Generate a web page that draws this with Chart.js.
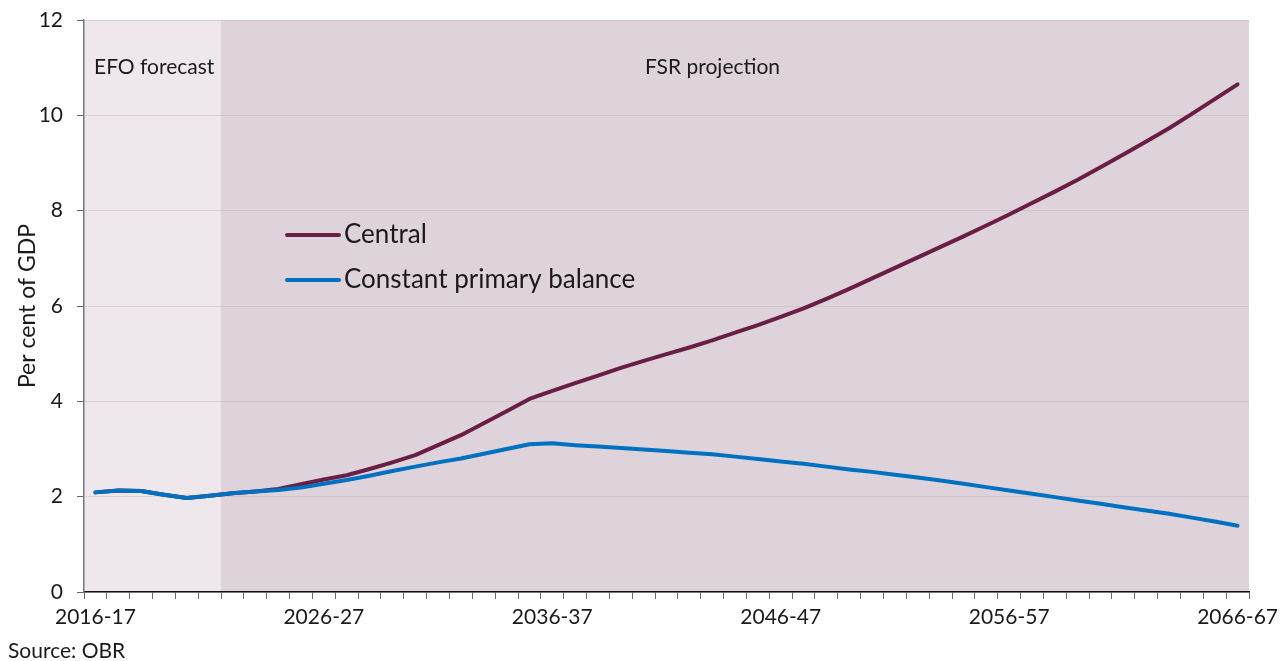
<!DOCTYPE html>
<html><head><meta charset="utf-8">
<script src="https://cdn.jsdelivr.net/npm/chart.js@4"></script>
<style>html,body{margin:0;padding:0;background:#fff}</style>
</head><body>
<canvas id="c" width="1285" height="661"></canvas>
<script>
const categories = ['2016-17','2017-18','2018-19','2019-20','2020-21','2021-22','2022-23','2023-24','2024-25','2025-26',
'2026-27','2027-28','2028-29','2029-30','2030-31','2031-32','2032-33','2033-34','2034-35','2035-36',
'2036-37','2037-38','2038-39','2039-40','2040-41','2041-42','2042-43','2043-44','2044-45','2045-46',
'2046-47','2047-48','2048-49','2049-50','2050-51','2051-52','2052-53','2053-54','2054-55','2055-56',
'2056-57','2057-58','2058-59','2059-60','2060-61','2061-62','2062-63','2063-64','2064-65','2065-66','2066-67'];
const centralValues = [2.09,2.13,2.12,2.04,1.97,2.02,2.07,2.11,2.16,2.26,
2.36,2.45,2.58,2.72,2.87,3.08,3.29,3.54,3.79,4.05,
4.22,4.38,4.54,4.70,4.85,4.99,5.13,5.28,5.44,5.60,
5.77,5.95,6.15,6.36,6.58,6.80,7.02,7.24,7.46,7.69,
7.92,8.16,8.40,8.65,8.91,9.18,9.45,9.73,10.03,10.34,10.65];
const constantPrimaryValues = [2.09,2.13,2.12,2.04,1.97,2.02,2.07,2.11,2.14,2.19,
2.27,2.35,2.44,2.54,2.63,2.72,2.80,2.90,3.00,3.10,
3.12,3.08,3.05,3.02,2.99,2.96,2.92,2.89,2.84,2.79,
2.74,2.69,2.63,2.57,2.52,2.46,2.40,2.34,2.27,2.20,
2.13,2.06,1.99,1.92,1.85,1.78,1.71,1.64,1.56,1.48,1.39];
const seriesNames = ['Central','Constant primary balance'];
const yTickValues = [0,2,4,6,8,10,12];
const labelEvery = 10;
const forecastLastIndex = 5;
const regionLabels = ['EFO forecast','FSR projection'];
const yTitle = 'Per cent of GDP';
const sourceText = 'Source: OBR';

const FONT = 'Lato, "Open Sans", sans-serif';
const COL_CENTRAL = '#6A1E45';
const COL_CPB = '#0070C0';

const shade = {
  id: 'shade',
  beforeDraw(chart) {
    const {ctx, chartArea: a, scales: {x}} = chart;
    const b = (x.getPixelForValue(forecastLastIndex) + x.getPixelForValue(forecastLastIndex + 1)) / 2;
    ctx.save();
    ctx.fillStyle = '#EEE7EC';
    ctx.fillRect(a.left, a.top, b - a.left, a.bottom - a.top);
    ctx.fillStyle = '#DED3DA';
    ctx.fillRect(b, a.top, a.right - b, a.bottom - a.top);
    ctx.fillStyle = '#1a1a1a';
    ctx.font = '21px ' + FONT;
    ctx.textBaseline = 'middle';
    ctx.textAlign = 'left';
    ctx.fillText(regionLabels[0], a.left + 10, 67);
    ctx.fillText(regionLabels[1], 645, 67);
    ctx.restore();
  },
  afterDraw(chart) {
    const {ctx} = chart;
    ctx.save();
    const ds = chart.data.datasets;
    ds.forEach((d, i) => {
      const y = 235 + 45 * i;
      ctx.strokeStyle = d.borderColor;
      ctx.lineWidth = 4;
      ctx.lineCap = 'round';
      ctx.beginPath();
      ctx.moveTo(287, y);
      ctx.lineTo(339, y);
      ctx.stroke();
      ctx.fillStyle = '#1a1a1a';
      ctx.font = '26px ' + FONT;
      ctx.textBaseline = 'middle';
      ctx.textAlign = 'left';
      ctx.fillText(d.label, 344, y);
    });
    ctx.font = '21px ' + FONT;
    ctx.textBaseline = 'middle';
    ctx.fillText(sourceText, 8, 651);
    ctx.restore();
  }
};

new Chart(document.getElementById('c'), {
  type: 'line',
  data: {
    labels: categories,
    datasets: [
      {label: seriesNames[0], data: centralValues, borderColor: COL_CENTRAL, backgroundColor: COL_CENTRAL,
       borderWidth: 4, pointRadius: 0, tension: 0, borderCapStyle: 'round', borderJoinStyle: 'round', order: 1},
      {label: seriesNames[1], data: constantPrimaryValues, borderColor: COL_CPB, backgroundColor: COL_CPB,
       borderWidth: 4, pointRadius: 0, tension: 0, borderCapStyle: 'round', borderJoinStyle: 'round', order: 0}
    ]
  },
  options: {
    responsive: false,
    animation: false,
    events: [],
    layout: {padding: {top: 20, right: 36, left: 0, bottom: 0}},
    plugins: {legend: {display: false}, tooltip: {enabled: false}},
    scales: {
      x: {
        offset: true,
        grid: {offset: true, drawOnChartArea: false, drawTicks: true, tickLength: 7, tickColor: '#666', lineWidth: 1},
        border: {color: '#111', width: 1.5},
        ticks: {
          autoSkip: false, maxRotation: 0, padding: 6, color: '#1a1a1a',
          font: {family: FONT, size: 21},
          callback: (v, i) => (i % labelEvery === 0 ? categories[i] : '')
        },
        afterFit: s => { s.height = 69; s.paddingLeft = 0; s.paddingRight = 0; }
      },
      y: {
        min: 0, max: 12,
        afterBuildTicks: s => { s.ticks = yTickValues.map(v => ({value: v})); },
        grid: {color: 'rgba(185,165,175,0.35)', borderDash: [2, 2], tickColor: '#666', tickLength: 7, tickBorderDash: []},
        border: {color: '#777', width: 1.5},
        ticks: {padding: 14, color: '#1a1a1a', font: {family: FONT, size: 21}},
        title: {display: true, text: yTitle, color: '#1a1a1a', font: {family: FONT, size: 23}, padding: {top: 14, bottom: 0}},
        afterFit: s => { s.width = 84; s.paddingTop = 0; s.paddingBottom = 0; }
      }
    }
  },
  plugins: [shade]
});
</script>
</body></html>
